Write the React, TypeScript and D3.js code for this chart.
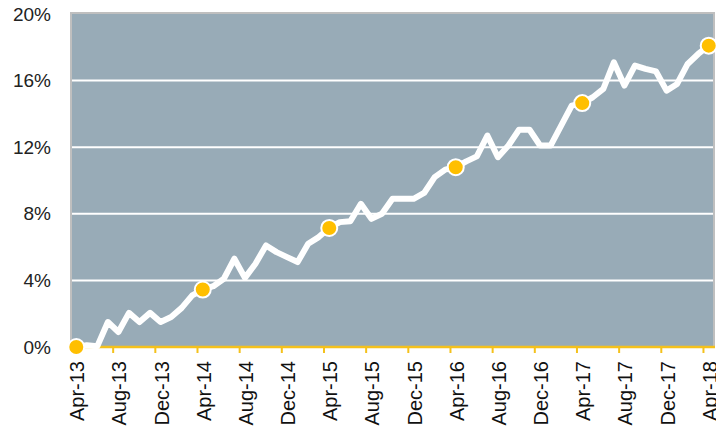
import { useEffect, useRef } from 'react';
import * as d3 from 'd3';

// monthly cumulative values, Apr-13 .. Apr-18 (%)
const values = [
  0.0, 0.1, 0.05, 1.5, 0.9, 2.05, 1.5, 2.05, 1.5, 1.8, 2.35, 3.1,
  3.45, 3.65, 4.1, 5.3, 4.15, 5.0, 6.1, 5.7, 5.4, 5.1, 6.2, 6.6,
  7.15, 7.5, 7.55, 8.6, 7.7, 8.0, 8.9, 8.9, 8.9, 9.25, 10.2, 10.65,
  10.8, 11.15, 11.45, 12.7, 11.4, 12.1, 13.05, 13.05, 12.1, 12.1, 13.3, 14.5,
  14.65, 15.0, 15.5, 17.1, 15.7, 16.9, 16.7, 16.55, 15.4, 15.8, 17.0, 17.6,
  18.1,
];
const startMonth = new Date(2013, 3, 1);
const yTicks = [0, 4, 8, 12, 16, 20];
const tickLabels = [
  'Apr-13', 'Aug-13', 'Dec-13', 'Apr-14', 'Aug-14', 'Dec-14', 'Apr-15', 'Aug-15',
  'Dec-15', 'Apr-16', 'Aug-16', 'Dec-16', 'Apr-17', 'Aug-17', 'Dec-17', 'Apr-18',
];

const App = () => {
  const ref = useRef<SVGSVGElement>(null);

  useEffect(() => {
    const width = 716;
    const height = 430;
    const left = 71, right = 714, top = 14, bottom = 347;
    const fmt = d3.timeFormat('%b-%y');
    const months = values.map((_, i) => fmt(d3.timeMonth.offset(startMonth, i)));

    const svg = d3.select(ref.current);
    svg.selectAll('*').remove();
    svg.attr('width', width).attr('height', height);

    const x = d3.scaleBand<string>().domain(months).range([left, right]).padding(0);
    const y = d3.scaleLinear().domain([0, 20]).range([bottom, top]);
    const cx = (i: number) => (x(months[i]) as number) + x.bandwidth() / 2;

    // plot area
    svg.append('rect')
      .attr('x', left).attr('y', top - 1)
      .attr('width', right - left).attr('height', bottom - top + 1)
      .attr('fill', '#98abb7')
      .attr('stroke', '#bfbfbf').attr('stroke-width', 2);

    // gridlines
    svg.append('g').selectAll('line')
      .data(yTicks.filter(t => t > 0 && t < 20))
      .enter().append('line')
      .attr('x1', left + 1).attr('x2', right - 1)
      .attr('y1', d => y(d)).attr('y2', d => y(d))
      .attr('stroke', '#fff').attr('stroke-width', 2);

    // y labels
    svg.append('g').selectAll('text')
      .data(yTicks)
      .enter().append('text')
      .attr('x', 51).attr('y', d => y(d))
      .attr('dy', '0.35em')
      .attr('text-anchor', 'end')
      .style('font-family', '"Liberation Sans", Arial, sans-serif')
      .style('font-size', '19px')
      .attr('fill', '#222')
      .text(d => `${d}%`);

    // x axis line and ticks
    svg.append('line')
      .attr('x1', left).attr('x2', right + 1)
      .attr('y1', bottom).attr('y2', bottom)
      .attr('stroke', '#f4c11c').attr('stroke-width', 2.5);

    svg.append('g').selectAll('line')
      .data(months.filter((_, i) => i % 4 === 0))
      .enter().append('line')
      .attr('x1', d => x(d) as number).attr('x2', d => x(d) as number)
      .attr('y1', bottom).attr('y2', bottom + 6)
      .attr('stroke', '#f4c11c').attr('stroke-width', 2);

    svg.append('g').selectAll('text')
      .data(tickLabels)
      .enter().append('text')
      .attr('transform', d => `translate(${(x(d) as number) + x.bandwidth() / 2 + 1},${bottom + 14}) rotate(-90)`)
      .attr('dy', '0.35em')
      .attr('text-anchor', 'end')
      .style('font-family', '"Liberation Sans", Arial, sans-serif')
      .style('font-size', '20px')
      .attr('fill', '#111')
      .text(d => d);

    // line
    const line = d3.line<number>()
      .x((_, i) => cx(i))
      .y(d => y(d));

    svg.append('path')
      .datum(values)
      .attr('d', line)
      .attr('fill', 'none')
      .attr('stroke', '#fff')
      .attr('stroke-width', 6)
      .attr('stroke-linejoin', 'round')
      .attr('stroke-linecap', 'round');

    // yearly markers
    svg.append('g').selectAll('circle')
      .data(values.map((v, i) => ({ v, i })).filter(d => d.i % 12 === 0))
      .enter().append('circle')
      .attr('cx', d => cx(d.i))
      .attr('cy', d => y(d.v))
      .attr('r', 8)
      .attr('fill', '#ffbf00')
      .attr('stroke', '#fff')
      .attr('stroke-width', 2);
  }, []);

  return <svg ref={ref} style={{ position: 'absolute', left: 0, top: 0 }}></svg>;
};

export default App;
